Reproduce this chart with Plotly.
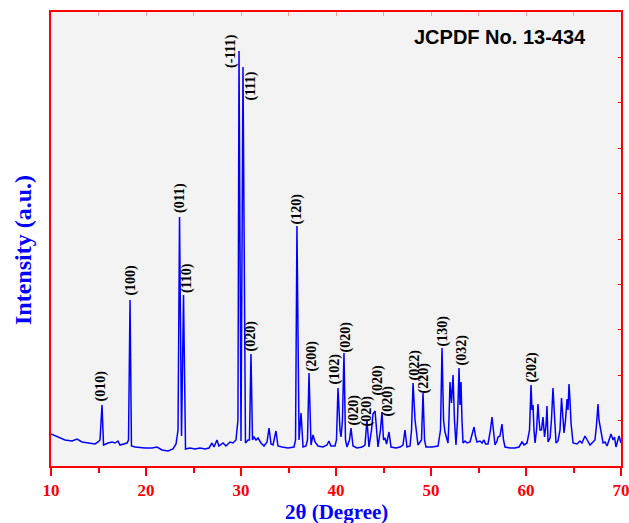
import plotly.graph_objects as go

two_theta = [
    10.00, 10.74, 11.47, 12.21, 12.74, 13.26, 14.11, 14.63, 14.95, 15.16,
    15.37, 15.53, 16.00, 16.42, 16.74, 17.05, 17.26, 17.68, 18.00, 18.16,
    18.32, 18.47, 18.84, 19.89, 20.63, 21.16, 21.68, 22.32, 22.84, 23.16,
    23.37, 23.53, 23.74, 23.95, 24.16, 24.63, 25.16, 25.68, 26.21, 26.63,
    26.95, 27.16, 27.47, 27.68, 28.11, 28.42, 28.84, 29.16, 29.47, 29.68,
    29.79, 30.00, 30.21, 30.47, 30.74, 30.89, 31.05, 31.21, 31.37, 31.58,
    31.79, 32.11, 32.42, 32.74, 32.95, 33.16, 33.37, 33.68, 33.89, 34.32,
    34.95, 35.58, 35.74, 35.89, 36.11, 36.32, 36.53, 36.84, 37.00, 37.16,
    37.37, 37.58, 37.79, 38.11, 38.63, 39.05, 39.26, 39.47, 39.89, 40.05,
    40.21, 40.42, 40.53, 40.68, 40.84, 41.00, 41.16, 41.42, 41.58, 41.79,
    42.21, 42.74, 43.05, 43.26, 43.47, 43.74, 43.89, 44.11, 44.26, 44.42,
    44.68, 44.84, 45.00, 45.16, 45.32, 45.58, 45.79, 46.32, 46.74, 47.05,
    47.26, 47.47, 47.79, 47.95, 48.11, 48.32, 48.63, 49.00, 49.16, 49.32,
    49.47, 50.11, 50.74, 51.00, 51.16, 51.32, 51.47, 51.68, 51.79, 51.89,
    52.00, 52.16, 52.32, 52.47, 52.63, 52.79, 52.95, 53.05, 53.16, 53.26,
    53.37, 53.58, 53.79, 54.11, 54.32, 54.53, 54.68, 54.84, 55.16, 55.37,
    55.58, 55.74, 56.00, 56.26, 56.42, 56.58, 56.74, 56.95, 57.05, 57.26,
    57.47, 57.63, 57.79, 58.32, 58.84, 59.26, 59.47, 59.58, 59.79, 60.11,
    60.37, 60.53, 60.63, 60.74, 60.84, 60.95, 61.11, 61.26, 61.37, 61.47,
    61.63, 61.79, 61.95, 62.11, 62.21, 62.32, 62.53, 62.68, 62.84, 63.00,
    63.16, 63.37, 63.58, 63.74, 63.89, 64.00, 64.16, 64.32, 64.42, 64.53,
    64.63, 64.74, 64.95, 65.37, 65.68, 65.89, 66.21, 66.42, 66.74, 67.05,
    67.26, 67.42, 67.58, 67.68, 67.79, 67.95, 68.11, 68.32, 68.53, 68.74,
    68.95, 69.16, 69.32, 69.47, 69.68, 69.79, 70.00,
]
intensity = [
    32, 29, 26, 25, 27, 24, 23, 22, 24, 26,
    61, 21, 23, 24, 23, 25, 21, 22, 23, 26,
    166, 20, 19, 18, 18, 19, 16, 15, 17, 22,
    36, 249, 30, 171, 17, 18, 17, 18, 17, 18,
    23, 19, 26, 20, 23, 20, 24, 23, 26, 46,
    415, 25, 399, 23, 26, 26, 112, 26, 29, 26,
    28, 23, 20, 24, 38, 22, 21, 35, 20, 19,
    18, 19, 26, 240, 26, 53, 19, 20, 26, 93,
    21, 31, 24, 20, 19, 21, 25, 20, 20, 26,
    78, 36, 29, 46, 113, 26, 19, 26, 38, 20,
    18, 19, 21, 46, 19, 36, 52, 55, 36, 19,
    36, 54, 26, 28, 22, 34, 19, 18, 19, 21,
    36, 19, 20, 36, 83, 46, 21, 26, 73, 26,
    19, 19, 20, 36, 118, 46, 34, 28, 23, 46,
    84, 63, 91, 46, 21, 46, 98, 61, 84, 46,
    23, 25, 23, 24, 31, 39, 30, 24, 25, 23,
    26, 22, 22, 36, 49, 31, 21, 25, 29, 30,
    42, 26, 19, 18, 18, 19, 23, 24, 21, 23,
    36, 81, 56, 61, 36, 23, 36, 62, 46, 36,
    36, 49, 29, 41, 60, 24, 28, 46, 78, 46,
    23, 25, 36, 68, 46, 33, 46, 67, 56, 82,
    66, 43, 23, 22, 25, 23, 30, 26, 21, 24,
    26, 41, 62, 46, 39, 31, 23, 24, 20, 26,
    32, 26, 29, 19, 26, 30, 23,
]

# Miller-index labels: text, 2-theta of label, intensity at label foot
hkl_labels = ["(010)", "(100)", "(011)", "(110)", "(-111)", "(111)", "(020)",
              "(120)", "(200)", "(102)", "(020)", "(020)", "(020)", "(020)",
              "(020)", "(022)", "(220)", "(130)", "(032)", "(202)"]
hkl_theta = [15.26, 18.32, 23.58, 24.32, 28.95, 31.05, 31.05,
             35.89, 37.47, 39.79, 41.05, 41.89, 43.26, 44.32,
             45.37, 48.21, 49.26, 51.26, 53.16, 60.53]
hkl_level = [63, 168, 251, 171, 396, 364, 113,
             240, 93, 79, 112, 39, 38, 68,
             47, 83, 71, 118, 98, 81]

x_ticks = [10, 20, 30, 40, 50, 60, 70]
card_text = "JCPDF No. 13-434"
x_title = "2θ (Degree)"
y_title = "Intensity (a.u.)"

W, H = 629, 523
ML, MR, MT, MB = 51, 8, 12, 57
PW, PH = W - ML - MR, H - MT - MB

fig = go.Figure()
fig.add_trace(go.Scatter(x=two_theta, y=intensity, mode="lines",
                         line=dict(color="#0000ff", width=1.5),
                         showlegend=False, hoverinfo="x+y"))
# empty trace to register the mirror axes (inside ticks on top/right)
fig.add_trace(go.Scatter(x=[], y=[], xaxis="x2", yaxis="y2",
                         showlegend=False, hoverinfo="skip"))

for t, xv, yv in zip(hkl_labels, hkl_theta, hkl_level):
    fig.add_annotation(x=xv, y=yv, xref="x", yref="y", text=t,
                       textangle=-90, showarrow=False,
                       xanchor="center", yanchor="bottom",
                       font=dict(family="Liberation Serif", size=14, color="black",
                                 weight="bold"))

fig.add_annotation(x=57.26, y=429, xref="x", yref="y", text=card_text,
                   showarrow=False, xanchor="center", yanchor="middle",
                   font=dict(family="Liberation Sans", size=20, color="black",
                             weight="bold"))

# axis titles placed as paper annotations
fig.add_annotation(x=(336 - ML) / PW, y=-(512 - (H - MB)) / PH,
                   xref="paper", yref="paper", text=x_title, showarrow=False,
                   xanchor="center", yanchor="middle", borderpad=0,
                   font=dict(family="Liberation Serif", size=21, color="#0000ff",
                             weight="bold"))
fig.add_annotation(x=-(ML - 23) / PW, y=((H - MB) - 250) / PH,
                   xref="paper", yref="paper", text=y_title, showarrow=False,
                   textangle=-90, xanchor="center", yanchor="middle",
                   font=dict(family="Liberation Serif", size=24, color="#0000ff",
                             weight="bold"))

fig.update_layout(
    width=W, height=H,
    margin=dict(l=ML, r=MR, t=MT, b=MB, autoexpand=False),
    paper_bgcolor="white",
    plot_bgcolor="#f3f3f3",
    xaxis=dict(range=[10, 70], tickvals=x_ticks, ticktext=[str(v) for v in x_ticks],
               ticks="outside", ticklen=8, tickwidth=2, tickcolor="red",
               showline=True, linecolor="red", linewidth=2, mirror=True,
               showgrid=False, zeroline=False, automargin=False,
               ticklabeloverflow="allow",
               minor=dict(dtick=5, tick0=10, ticks="outside", ticklen=5,
                          tickwidth=2, tickcolor="red", showgrid=False),
               tickfont=dict(family="Liberation Serif", size=17, color="red",
                             weight="bold")),
    yaxis=dict(range=[0, 454], showticklabels=False, ticks="",
               showline=True, linecolor="red", linewidth=2, mirror=True,
               showgrid=False, zeroline=False, automargin=False),
    xaxis2=dict(range=[10, 70], overlaying="x", side="top", anchor="y",
                dtick=5, tick0=10, ticks="inside", ticklen=4, tickwidth=1,
                tickcolor="rgba(255,0,0,0.35)", showticklabels=False,
                showgrid=False, zeroline=False, showline=False, automargin=False),
    yaxis2=dict(range=[0, 454], overlaying="y", side="right", anchor="x",
                dtick=45.4, tick0=0, ticks="inside", ticklen=3, tickwidth=1,
                tickcolor="red", showticklabels=False,
                showgrid=False, zeroline=False, showline=False, automargin=False),
)

fig.write_html("out.html",
               config={"displayModeBar": False},
               post_script="document.body.style.margin='0';"
                           "document.body.style.overflow='hidden';")
